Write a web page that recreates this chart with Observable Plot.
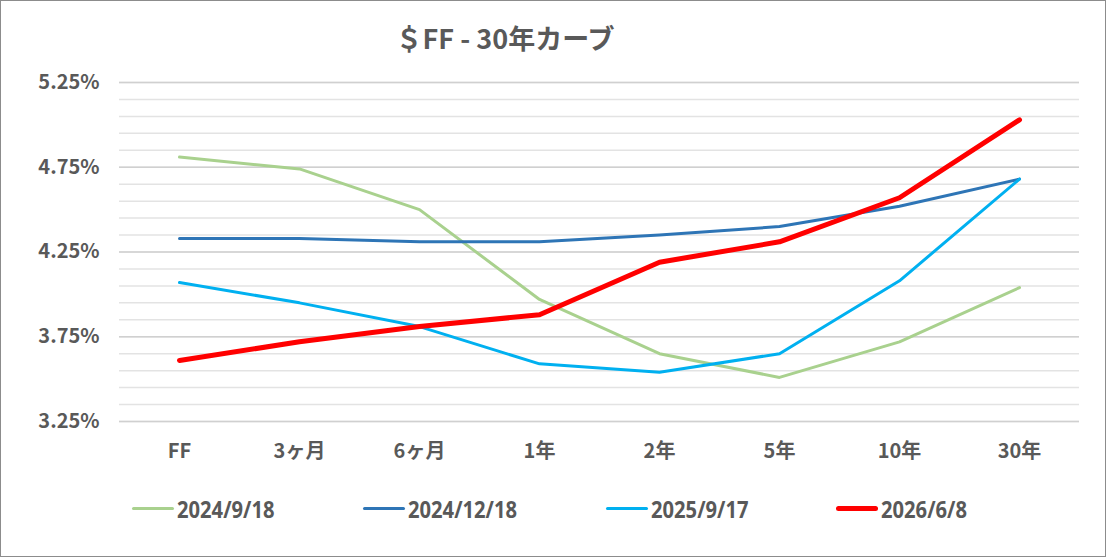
<!DOCTYPE html>
<html><head><meta charset="utf-8">
<script src="https://cdn.jsdelivr.net/npm/d3@7"></script>
<script src="https://cdn.jsdelivr.net/npm/@observablehq/plot@0.6"></script>
<style>
body{margin:0;background:#fff;}
#wrap{position:relative;width:1104px;height:555px;border:1px solid #8c8c8c;background:#fff;overflow:hidden;font-family:"Noto Sans CJK JP","Noto Sans",sans-serif;}
#title{position:absolute;left:0;width:1008px;top:17px;text-align:center;font-size:27px;font-weight:bold;color:#595959;}
#chart{position:absolute;left:0;top:0;}
#legend{position:absolute;top:494px;left:0;width:1104px;height:30px;}
.item{position:absolute;display:flex;align-items:center;font-family:"Noto Sans","DejaVu Sans",sans-serif;font-weight:bold;font-size:24px;color:#595959;}
.item .txt{display:inline-block;transform:scaleX(0.84);transform-origin:left center;}
.sw{display:inline-block;width:42px;margin-right:3px;border-radius:3px;}
</style></head>
<body>
<div id="wrap">
<div id="chart"></div>
<div id="title">＄FF - 30年カーブ</div>
<div id="legend"></div>
</div>
<script>
const tenors = ["FF","3ヶ月","6ヶ月","1年","2年","5年","10年","30年"];
const seriesNames = ["2024/9/18","2024/12/18","2025/9/17","2026/6/8"];
const s2024_9_18  = [4.81, 4.74, 4.50, 3.97, 3.65, 3.51, 3.72, 4.04];
const s2024_12_18 = [4.33, 4.33, 4.31, 4.31, 4.35, 4.40, 4.52, 4.68];
const s2025_9_17  = [4.07, 3.95, 3.81, 3.59, 3.54, 3.65, 4.08, 4.68];
const s2026_6_8   = [3.61, 3.72, 3.81, 3.88, 4.19, 4.31, 4.57, 5.03];
const yTickValues = [3.25, 3.75, 4.25, 4.75, 5.25];
const yTickLabels = ["3.25%","3.75%","4.25%","4.75%","5.25%"];
const colors = ["#A9D18E","#2E75B6","#00B0F0","#FF0000"];
const widths = [3, 3, 3, 5];

const allSeries = [s2024_9_18, s2024_12_18, s2025_9_17, s2026_6_8];
const data = [];
allSeries.forEach((vals, si) => vals.forEach((v, i) => data.push({series: seriesNames[si], tenor: tenors[i], value: v})));

const minorGrid = d3.range(0, 21).map(i => +(3.25 + i * 0.1).toFixed(2));

const marks = [
  Plot.ruleY(minorGrid, {stroke: "#e3e3e3", strokeWidth: 1.5}),
  Plot.ruleY(yTickValues, {stroke: "#d0d0d0", strokeWidth: 1.5}),
  Plot.axisY(yTickValues, {tickSize: 0, tickPadding: 20, tickFormat: d => yTickLabels[yTickValues.indexOf(d)], fontSize: 20, fontWeight: "bold", fill: "#595959"}),
  Plot.axisX({tickSize: 0, tickPadding: 22, fontSize: 20, fontWeight: "bold", fill: "#595959", label: null})
];
seriesNames.forEach((name, si) => {
  marks.push(Plot.line(data.filter(d => d.series === name), {x: "tenor", y: "value", stroke: colors[si], strokeWidth: widths[si], strokeLinejoin: "round", strokeLinecap: "round"}));
});

const chart = Plot.plot({
  width: 1104, height: 480,
  marginLeft: 118, marginRight: 26, marginTop: 81, marginBottom: 60,
  style: {fontFamily: '"Noto Sans CJK JP","Noto Sans",sans-serif', background: "transparent"},
  x: {type: "point", domain: tenors, padding: 0.5, label: null},
  y: {domain: [3.25, 5.25], label: null},
  marks
});
document.getElementById("chart").appendChild(chart);

const legendX = [131, 362, 605, 835];
const leg = document.getElementById("legend");
seriesNames.forEach((name, si) => {
  const it = document.createElement("div");
  it.className = "item";
  it.style.left = legendX[si] + "px";
  it.style.top = "0px";
  it.style.height = "26px";
  const sw = document.createElement("span");
  sw.className = "sw";
  sw.style.height = widths[si] + "px";
  sw.style.background = colors[si];
  it.appendChild(sw);
  const t = document.createElement("span");
  t.className = "txt";
  t.textContent = name;
  it.appendChild(t);
  leg.appendChild(it);
});
</script>
</body></html>
